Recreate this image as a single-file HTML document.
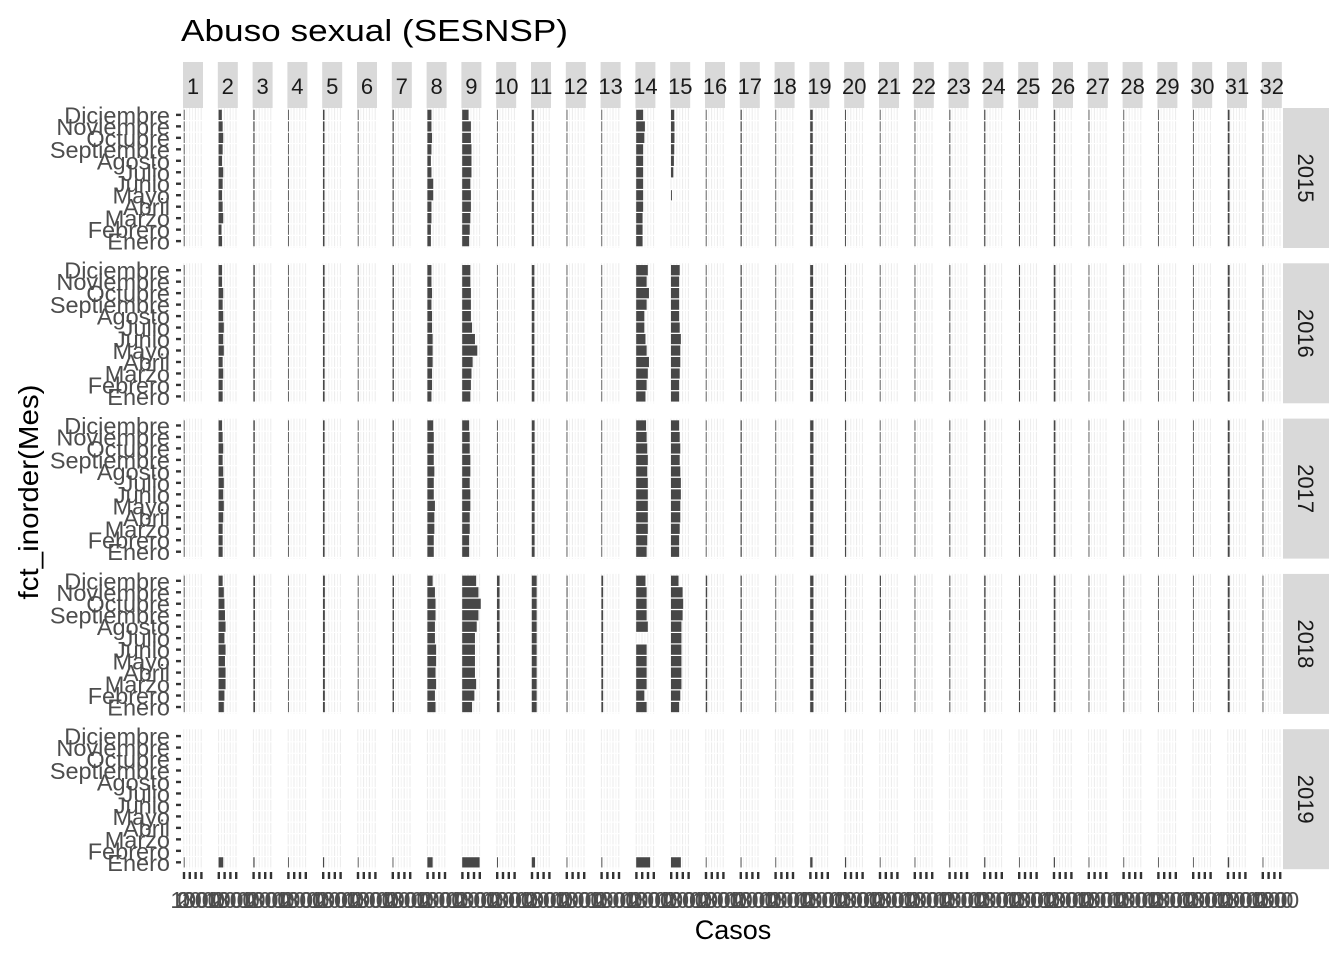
<!DOCTYPE html>
<html><head><meta charset="utf-8"><style>
body{margin:0;background:#fff}
svg{display:block;font-family:"Liberation Sans",sans-serif}
</style></head><body>
<svg id="chart" width="1344" height="960" viewBox="0 0 1344 960">
<text x="181" y="41" font-size="31" textLength="387" lengthAdjust="spacingAndGlyphs" fill="#000">Abuso sexual (SESNSP)</text>
<text x="733" y="939" font-size="27" fill="#000" text-anchor="middle">Casos</text>
<text transform="translate(38,492) rotate(-90)" font-size="28" textLength="215" lengthAdjust="spacingAndGlyphs" fill="#000" text-anchor="middle">fct_inorder(Mes)</text>
<g id="plot"></g>
</svg>
<script>
const months = ["Enero","Febrero","Marzo","Abril","Mayo","Junio","Julio","Agosto","Septiembre","Octubre","Noviembre","Diciembre"];
const states = Array.from({length:32},(_,i)=>String(i+1));
const years = ["2015","2016","2017","2018","2019"];
const xTicks = [0,50,100,150];
const xTickLabels = ["0","100","200","300"];
// baseline monthly cases per state, per year
const base2015 = [5,35,10,3,13,5,10,35,65,5,18,5,5,55,28,5,10,3,22,8,3,5,8,10,8,12,5,5,3,3,15,3];
const base2016 = [5,38,12,4,14,6,11,40,80,6,22,5,6,90,72,5,10,3,25,9,4,6,8,11,9,14,5,8,3,4,16,4];
const base2017 = [5,38,12,6,14,6,11,58,65,6,24,5,6,96,78,5,10,3,28,10,5,6,8,11,9,14,5,8,3,4,16,4];
const base2018 = [5,52,14,5,16,6,12,68,120,22,42,8,15,85,88,12,10,4,28,10,10,6,8,12,9,14,5,8,3,4,16,4];
const base2019 = [5,40,10,4,10,5,5,45,150,8,28,5,8,120,85,5,8,3,20,10,4,5,6,10,6,10,4,6,3,3,12,3];
// detailed series (Enero..Diciembre) for major states
const s2 = {"2015":[30,25,40,35,30,35,40,30,35,40,35,28],"2016":[35,35,40,35,45,40,45,40,35,40,30,30],"2017":[35,35,35,40,45,40,45,40,35,40,35,30],"2018":[45,50,60,60,55,60,50,60,55,50,45,35]};
const s8 = {"2015":[30,30,35,35,50,50,35,30,35,40,35,35],"2016":[35,40,40,45,45,45,40,40,35,40,35,35],"2017":[55,55,60,60,65,55,55,60,55,55,55,50],"2018":[70,65,75,70,75,75,65,65,70,70,65,45]};
const s9 = {"2015":[60,65,70,75,75,70,80,80,80,75,75,55],"2016":[70,75,80,90,130,110,85,75,75,75,70,70],"2017":[60,60,65,65,70,70,65,70,70,65,65,60],"2018":[85,105,120,110,110,110,110,125,140,160,140,120]};
const s14 = {"2015":[55,55,55,60,60,60,60,60,60,70,75,60],"2016":[80,90,100,110,90,80,70,70,90,110,90,100],"2017":[90,95,100,100,100,100,100,95,100,95,90,85],"2018":[90,70,90,90,90,90,0,100,90,90,90,80]};
const s15 = {"2015":[0,0,0,0,8,0,20,25,28,30,30,28],"2016":[70,70,75,80,80,85,75,70,70,70,70,75],"2017":[70,70,75,80,80,85,85,80,75,80,75,70],"2018":[70,80,90,90,90,90,90,90,100,105,100,65]};

const NS="http://www.w3.org/2000/svg";
const plot=document.getElementById('plot');
function mk(tag,attrs,parent){const e=document.createElementNS(NS,tag);for(const k in attrs)e.setAttribute(k,attrs[k]);(parent||plot).appendChild(e);return e;}
const PX0=183, PPITCH=34.8, PW=20, PY0=108, RPITCH=155.3, PH=140;
const xScale=v=>0.8+v*0.116;
const unit=PH/12.2;
const yCenter=(m)=>PH-0.6*unit-m*unit;
const bases={"2015":base2015,"2016":base2016,"2017":base2017,"2018":base2018,"2019":base2019};
function value(y,si,m){
  if(y==="2019") return m===0?bases[y][si]:0;
  const map={1:s2,7:s8,8:s9,13:s14,14:s15};
  if(map[si]) return map[si][y][m];
  return bases[y][si];
}
states.forEach((s,c)=>{
  const x=PX0+c*PPITCH;
  const r=mk('rect',{x:x,y:62,width:PW,height:46,fill:'#d9d9d9'});
  
  
  const t=mk('text',{x:x+PW/2,y:94,'font-size':22,'text-anchor':'middle',fill:'#1a1a1a'});
  t.textContent=s;
  
  
});
years.forEach((y,r)=>{
  const py=PY0+r*RPITCH;
  const rs=mk('rect',{x:1283,y:py,width:46,height:PH,fill:'#d9d9d9'});
  
  
  const rt=mk('text',{transform:`translate(1298,${py+PH/2}) rotate(90)`,'font-size':22,'text-anchor':'middle',fill:'#1a1a1a'});
  rt.textContent=y;
  
  
  months.forEach((mn,m)=>{
    const yc=py+yCenter(m);
    const lt=mk('text',{x:170,y:yc+8.5,'font-size':23.5,'text-anchor':'end',fill:'#4d4d4d'});
    lt.textContent=mn;
    
    
    const tk=mk('rect',{x:176,y:yc-1.2,width:5,height:2.4,fill:'#333'});
    
    
  });
  states.forEach((s,c)=>{
    const px=PX0+c*PPITCH;
    const g=mk('g',{});
    
    
    for(let k=0;k<7;k++){
      const gx=px+xScale(k*25);
      if(gx>px+PW) break;
      mk('line',{x1:gx,x2:gx,y1:py,y2:py+PH,stroke:k%2?'#f3f3f3':'#ebebeb','stroke-width':1},g);
    }
    months.forEach((mn,m)=>{
      mk('line',{x1:px,x2:px+PW,y1:py+yCenter(m)+unit/2,y2:py+yCenter(m)+unit/2,stroke:'#fff','stroke-width':1.2},g);
      const v=value(y,c,m);
      if(v<=0) return;
      const b=mk('rect',{x:px+xScale(0),y:py+yCenter(m)-unit*0.45,width:Math.max(0.8,v*0.116),height:unit*0.9,fill:'#474747'},g);
      
      
    });
  });
});
states.forEach((s,c)=>{
  const px=PX0+c*PPITCH;
  xTicks.forEach((t,i)=>{
    const tx=px+xScale(t);
    const tk=mk('rect',{x:tx-1,y:872,width:2.4,height:7,fill:'#333'});
    
    
    const tl=mk('text',{x:tx,y:908,'font-size':23,'text-anchor':'middle',fill:'#4d4d4d'});
    tl.textContent=xTickLabels[i];
    
    
  });
});
</script>
</body></html>
